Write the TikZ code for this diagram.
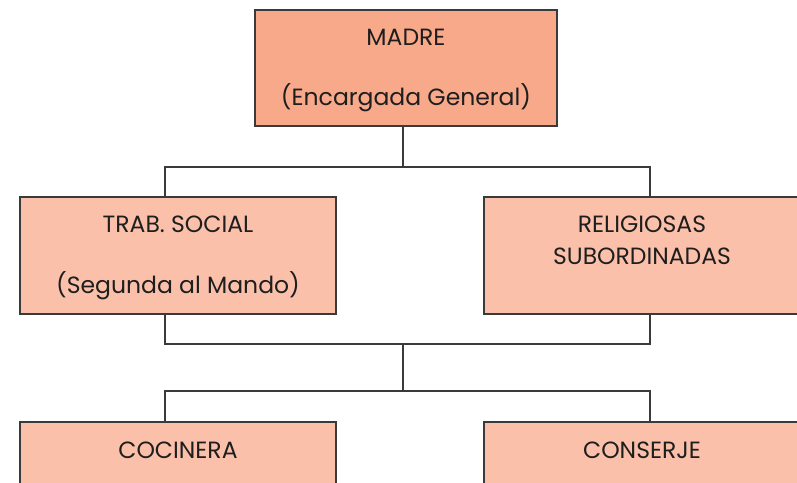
\documentclass[tikz,border=0pt]{standalone}
\usepackage{fontspec}
\setmainfont{Poppins}
\usetikzlibrary{positioning}

\definecolor{headfill}{RGB}{247,169,138}
\definecolor{subfill}{RGB}{251,192,170}
\definecolor{boxline}{RGB}{58,58,58}
\definecolor{inkgray}{RGB}{30,30,30}

% text block, hung from the top of the box
\newcommand{\boxtext}[1]{\parbox[c][116pt][t]{300pt}{\centering\rule{0pt}{35.5pt}#1}}

\tikzset{
    orgbox/.style={draw=boxline, line width=1.5pt, inner sep=0pt, text=inkgray,
        font=\fontsize{23.5}{32}\selectfont, minimum width=316pt, minimum height=117pt},
    link/.style={draw=boxline, line width=1.3pt}
}

\begin{document}
\begin{tikzpicture}[x=1pt, y=1pt]
        \useasboundingbox (0,0) rectangle (797,482);
        \clip (0,0) rectangle (797,482);

        % Boxes
        \node[orgbox, fill=headfill, minimum width=302pt, minimum height=116pt] (madre) at (406,414)
            {\boxtext{MADRE\\[28pt](Encargada General)}};
        \node[orgbox, fill=subfill] (trab) at (178,226.5)
            {\boxtext{TRAB. SOCIAL\\[29pt](Segunda al Mando)}};
        \node[orgbox, fill=subfill] (relig) at (642,226.5)
            {\boxtext{RELIGIOSAS\\SUBORDINADAS}};
        \node[orgbox, fill=subfill] (cocinera) at (178,1.5)
            {\boxtext{COCINERA}};
        \node[orgbox, fill=subfill] (conserje) at (642,1.5)
            {\boxtext{CONSERJE}};

        % Junctions
        \coordinate (split top) at (403,315);
        \coordinate (join mid) at (403,138);
        \coordinate (split low) at (403,91);

        % Connectors
        \draw[link] (madre.south -| split top) -- (split top);
        \draw[link] ([xshift=-13pt]trab.north) |- (split top) -| ([xshift=8pt]relig.north);
        \draw[link] ([xshift=-13pt]trab.south) |- (join mid) -| ([xshift=8pt]relig.south);
        \draw[link] (join mid) -- (split low);
        \draw[link] ([xshift=-13pt]cocinera.north) |- (split low) -| ([xshift=8pt]conserje.north);

    \end{tikzpicture}
\end{document}
